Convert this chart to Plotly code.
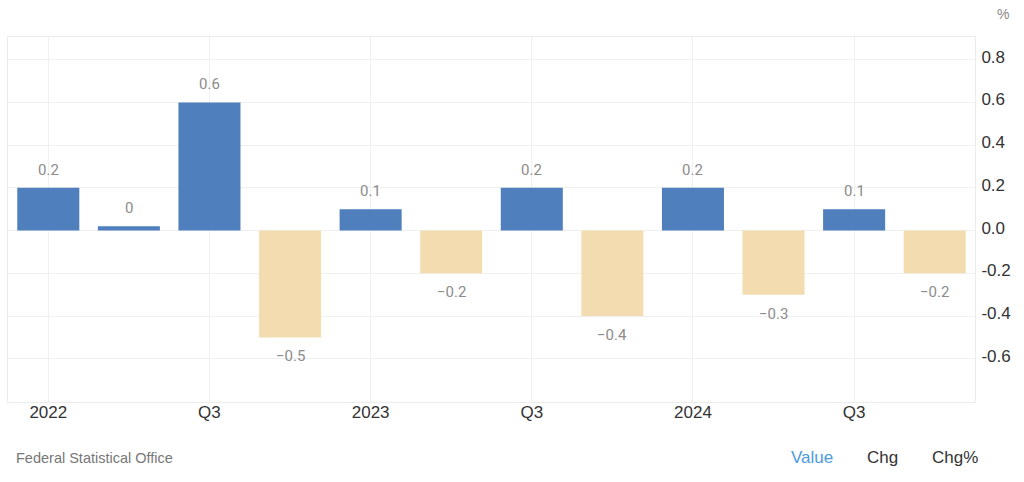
import plotly.graph_objects as go

quarters = ["2022 Q1", "2022 Q2", "2022 Q3", "2022 Q4",
            "2023 Q1", "2023 Q2", "2023 Q3", "2023 Q4",
            "2024 Q1", "2024 Q2", "2024 Q3", "2024 Q4"]
values = [0.2, 0.02, 0.6, -0.5, 0.1, -0.2, 0.2, -0.4, 0.2, -0.3, 0.1, -0.2]
value_labels = ["0.2", "0", "0.6", "−0.5", "0.1", "−0.2", "0.2", "−0.4", "0.2", "−0.3", "0.1", "−0.2"]
tick_positions = ["2022 Q1", "2022 Q3", "2023 Q1", "2023 Q3", "2024 Q1", "2024 Q3"]
tick_labels = ["2022", "Q3", "2023", "Q3", "2024", "Q3"]
y_ticks = [-0.6, -0.4, -0.2, 0.0, 0.2, 0.4, 0.6, 0.8]
y_tick_labels = ["-0.6", "-0.4", "-0.2", "0.0", "0.2", "0.4", "0.6", "0.8"]

BLUE = "#4f7fbc"
BEIGE = "#f3ddb0"
colors = [BLUE if v >= 0 else BEIGE for v in values]

fig = go.Figure()
fig.add_trace(go.Bar(x=quarters, y=values, marker=dict(color=colors, line=dict(width=0)),
                     hoverinfo="x+y", showlegend=False))

for q, v, lab in zip(quarters, values, value_labels):
    fig.add_annotation(x=q, y=v, text=lab, showarrow=False,
                       yshift=18 if v >= 0 else -19,
                       font=dict(family="Roboto, Arial, sans-serif", size=15, color="#8c8c8c"))

fig.update_layout(
    width=1024, height=482,
    margin=dict(l=8, r=49, t=37, b=80),
    paper_bgcolor="white", plot_bgcolor="white",
    bargap=0.23,
    font=dict(family="Liberation Sans, Arial, sans-serif", color="#333333"),
    xaxis=dict(type="category", categoryorder="array", categoryarray=quarters,
               range=[-0.5, 11.5],
               tickmode="array", tickvals=tick_positions, ticktext=tick_labels,
               tickfont=dict(size=17, color="#333333"),
               showgrid=True, gridcolor="#f0f0f0", gridwidth=1,
               showline=True, linecolor="#ececec", mirror=True,
               ticks="", ticklabelstandoff=-5, zeroline=False),
    yaxis=dict(side="right", range=[-0.802, 0.906],
               tickmode="array", tickvals=y_ticks, ticktext=y_tick_labels,
               tickfont=dict(size=17, color="#333333"),
               showgrid=True, gridcolor="#f0f0f0", gridwidth=1,
               showline=True, linecolor="#ececec", mirror=True,
               ticks="", ticklabelstandoff=2, ticklabelshift=-3, zeroline=False),
)

fig.add_annotation(xref="paper", yref="paper", x=1.0, xanchor="left", xshift=20,
                   y=1, yanchor="middle", yshift=23, text="%", showarrow=False,
                   font=dict(size=14, color="#888888"))
fig.add_annotation(xref="paper", yref="paper", x=0, xanchor="left", xshift=6,
                   y=0, yanchor="middle", yshift=-56, text="Federal Statistical Office",
                   showarrow=False, font=dict(size=14.5, color="#777777"))
for txt, xpos, col in [("Value", 812, "#4a9be0"), ("Chg", 882, "#333333"), ("Chg%", 955, "#333333")]:
    fig.add_annotation(xref="paper", yref="paper", x=(xpos - 8) / 967, xanchor="center",
                       y=0, yanchor="middle", yshift=-55, text=txt, showarrow=False,
                       font=dict(size=17, color=col))

# remove the browser's default 8px body margin so the 1024x482 figure fills the window
fig.write_html("out.html", config={"displayModeBar": False},
               post_script="document.body.style.margin='0';document.body.style.overflow='hidden';")
